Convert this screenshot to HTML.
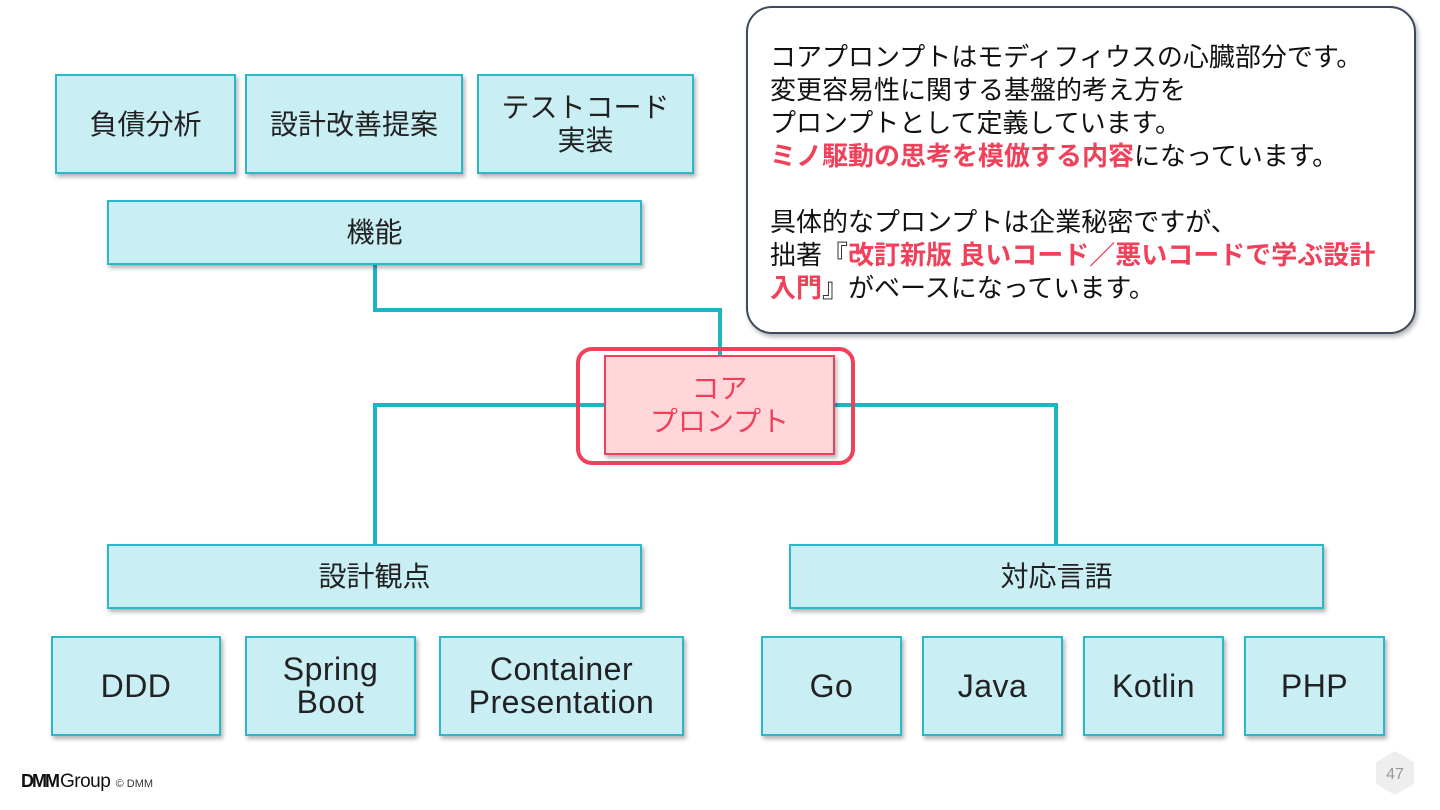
<!DOCTYPE html>
<html><head><meta charset="utf-8"><style>
body{margin:0;width:1440px;height:810px;background:#fff;position:relative;overflow:hidden;font-family:"Liberation Sans","Noto Sans CJK JP",sans-serif;}
.b{position:absolute;box-sizing:border-box;background:#c9eef3;border:2px solid #2bb7c8;box-shadow:2px 3px 4px rgba(0,0,0,.3);display:flex;align-items:center;justify-content:center;text-align:center;color:#222;font-size:32px;line-height:33px;letter-spacing:0.5px;}
.j{font-size:28px;line-height:33px;letter-spacing:0;}
.l{position:absolute;background:#1fb3c6;}
.r{color:#f0405a;font-weight:bold;}
</style></head><body>
<div class="l" style="left:373px;top:264px;width:4px;height:48px"></div>
<div class="l" style="left:373px;top:308px;width:349px;height:4px"></div>
<div class="l" style="left:718px;top:308px;width:4px;height:48px"></div>
<div class="l" style="left:373px;top:403px;width:232px;height:4px"></div>
<div class="l" style="left:373px;top:403px;width:4px;height:142px"></div>
<div class="l" style="left:834px;top:403px;width:224px;height:4px"></div>
<div class="l" style="left:1054px;top:403px;width:4px;height:142px"></div>

<div class="b j" style="left:55px;top:74px;width:181px;height:100px">負債分析</div>
<div class="b j" style="left:245px;top:74px;width:218px;height:100px">設計改善提案</div>
<div class="b j" style="left:477px;top:74px;width:217px;height:100px">テストコード<br>実装</div>
<div class="b j" style="left:107px;top:200px;width:535px;height:65px">機能</div>

<div style="position:absolute;left:576px;top:347px;width:279px;height:118px;box-sizing:border-box;border:4px solid #f0405a;border-radius:16px"></div>
<div class="b j" style="left:604px;top:355px;width:231px;height:100px;background:#ffd6d9;border-color:#f0405a;color:#f0405a">コア<br>プロンプト</div>

<div class="b j" style="left:107px;top:544px;width:535px;height:65px">設計観点</div>
<div class="b j" style="left:789px;top:544px;width:535px;height:65px">対応言語</div>

<div class="b" style="left:51px;top:636px;width:170px;height:100px">DDD</div>
<div class="b" style="left:245px;top:636px;width:171px;height:100px">Spring<br>Boot</div>
<div class="b" style="left:439px;top:636px;width:245px;height:100px">Container<br>Presentation</div>
<div class="b" style="left:761px;top:636px;width:141px;height:100px">Go</div>
<div class="b" style="left:922px;top:636px;width:141px;height:100px">Java</div>
<div class="b" style="left:1083px;top:636px;width:141px;height:100px">Kotlin</div>
<div class="b" style="left:1244px;top:636px;width:141px;height:100px">PHP</div>

<div style="position:absolute;left:746px;top:6px;width:670px;height:328px;box-sizing:border-box;border:2px solid #3d4a5c;border-radius:26px;background:#fff;box-shadow:2px 3px 5px rgba(0,0,0,.3);padding:33px 0 0 22px;font-size:26px;line-height:33px;color:#111;white-space:nowrap">
コアプロンプトはモディフィウスの心臓部分です。<br>変更容易性に関する基盤的考え方を<br>プロンプトとして定義しています。<br><span class="r">ミノ駆動の思考を模倣する内容</span>になっています。<br><br>具体的なプロンプトは企業秘密ですが、<br>拙著『<span class="r">改訂新版 良いコード／悪いコードで学ぶ設計</span><br><span class="r">入門</span>』がベースになっています。
</div>

<div style="position:absolute;left:21px;top:771px;font-size:19px;color:#111;white-space:nowrap"><b style="letter-spacing:-2px;font-size:18px">DMM</b><span style="letter-spacing:-0.5px;margin-left:2px">Group</span> <span style="font-size:11px;color:#333">© DMM</span></div>
<svg style="position:absolute;left:1374px;top:750px" width="42" height="46"><polygon points="21,1 40,12 40,34 21,45 2,34 2,12" fill="#eee"/><text x="21" y="29" font-size="16" text-anchor="middle" fill="#999" font-family="Liberation Sans">47</text></svg>
</body></html>
